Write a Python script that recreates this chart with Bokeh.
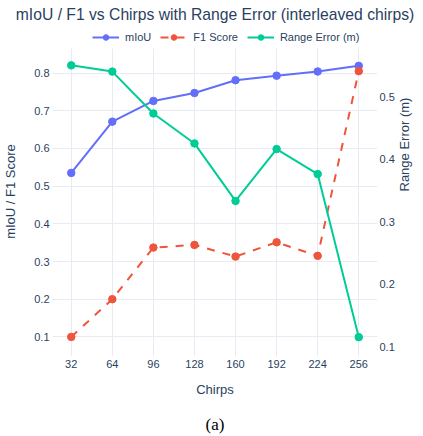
from bokeh.plotting import figure
from bokeh.models import (Range1d, LinearAxis, Legend, LegendItem, Title, FixedTicker,
                          BoxAnnotation)
from bokeh.embed import file_html
from bokeh.resources import INLINE
import math

chirps = [32, 64, 96, 128, 160, 192, 224, 256]
miou = [0.535, 0.671, 0.726, 0.747, 0.781, 0.793, 0.804, 0.819]
f1 = [0.100, 0.200, 0.337, 0.344, 0.313, 0.351, 0.315, 0.805]
range_err = [0.550, 0.540, 0.473, 0.425, 0.333, 0.416, 0.376, 0.115]

x_ticks = [32, 64, 96, 128, 160, 192, 224, 256]
left_ticks = [0.1, 0.2, 0.3, 0.4, 0.5, 0.6, 0.7, 0.8]
right_ticks = [0.1, 0.2, 0.3, 0.4, 0.5]

series_names = ["mIoU", "F1 Score", "Range Error (m)"]
chart_title = "mIoU / F1 vs Chirps with Range Error (interleaved chirps)"
caption = "(a)"

FONT = "Liberation Sans"
TXT = "#2a3f5f"
GRID = "#e8ecf2"
C_MIOU = "#636efa"
C_F1 = "#EF553B"
C_RE = "#00cc96"

# plotting area bounds (data units) and the headroom kept for the legend
Y_LO, Y_HI, Y_TOP = 0.048, 0.865, 0.9234
R_LO, R_HI, R_TOP = 0.084, 0.577, 0.6122

p = figure(width=423, height=436, output_backend="svg", toolbar_location=None,
           x_range=Range1d(17.4, 270.6), y_range=Range1d(Y_LO, Y_TOP),
           min_border_left=52, min_border_right=46, min_border_top=26, min_border_bottom=80,
           title=None)
p.extra_y_ranges = {"right": Range1d(R_LO, R_TOP)}
p.outline_line_color = None
p.background_fill_color = "white"
p.border_fill_color = "white"

MS = 7.5
r1l = p.line(chirps, miou, line_color=C_MIOU, line_width=2)
r1s = p.scatter(chirps, miou, size=MS, fill_color=C_MIOU, line_color=C_MIOU)
r2l = p.line(chirps, f1, line_color=C_F1, line_width=2, line_dash="8 8")
r2s = p.scatter(chirps, f1, size=MS, fill_color=C_F1, line_color=C_F1)
r3l = p.line(chirps, range_err, line_color=C_RE, line_width=2, y_range_name="right")
r3s = p.scatter(chirps, range_err, size=MS, fill_color=C_RE, line_color=C_RE, y_range_name="right")

def style_axis(ax):
    ax.axis_line_color = None
    ax.major_tick_line_color = None
    ax.minor_tick_line_color = None
    ax.major_tick_out = 0
    ax.major_tick_in = 0
    ax.major_label_text_font = FONT
    ax.major_label_text_font_size = "11px"
    ax.major_label_text_color = TXT
    ax.axis_label_text_font = FONT
    ax.axis_label_text_font_size = "13px"
    ax.axis_label_text_color = TXT
    ax.axis_label_text_font_style = "normal"

p.xaxis.ticker = FixedTicker(ticks=x_ticks)
p.xaxis.axis_label = "Chirps"
p.xaxis.major_label_standoff = 3
p.xaxis.axis_label_standoff = 11
style_axis(p.xaxis[0])

p.yaxis.ticker = FixedTicker(ticks=left_ticks)
p.yaxis.axis_label = "mIoU / F1 Score"
p.yaxis.major_label_standoff = 3
p.yaxis.axis_label_standoff = 13
p.yaxis.bounds = (Y_LO, Y_HI)
style_axis(p.yaxis[0])

ra = LinearAxis(y_range_name="right", ticker=FixedTicker(ticks=right_ticks),
                axis_label="Range Error (m)", bounds=(R_LO, R_HI))
style_axis(ra)
ra.major_label_standoff = 2
ra.axis_label_standoff = 7
if "axis_label_orientation" in ra.properties():
    ra.axis_label_orientation = math.pi / 2
ra.axis_label_text_baseline = "top"
p.add_layout(ra, "right")

# caption "(a)" as the label of an extra, tick-less bottom axis
cap_ax = LinearAxis(ticker=FixedTicker(ticks=[]), axis_label=caption)
style_axis(cap_ax)
cap_ax.axis_label_text_font = "Liberation Serif"
cap_ax.axis_label_text_font_size = "17px"
cap_ax.axis_label_text_color = "black"
cap_ax.axis_label_standoff = 15
p.add_layout(cap_ax, "below")

p.xgrid.grid_line_color = GRID
p.ygrid.grid_line_color = GRID
p.xgrid.ticker = FixedTicker(ticks=x_ticks)
p.ygrid.ticker = FixedTicker(ticks=left_ticks)

# white cover above the plotting area (hides grid lines in the legend strip)
p.add_layout(BoxAnnotation(bottom=Y_HI, fill_color="white", fill_alpha=1,
                           line_alpha=0, level="underlay"))

legend = Legend(items=[
    LegendItem(label=series_names[0], renderers=[r1l, r1s]),
    LegendItem(label=series_names[1], renderers=[r2l, r2s]),
    LegendItem(label=series_names[2], renderers=[r3l, r3s]),
], orientation="horizontal", location=(40, 312))
legend.label_text_font = FONT
legend.label_text_font_size = "11px"
legend.label_text_color = TXT
legend.glyph_width = 27
legend.glyph_height = 14
legend.label_standoff = 6
legend.spacing = 9
legend.padding = 0
legend.margin = 0
legend.border_line_color = None
legend.background_fill_alpha = 0
p.add_layout(legend, "center")

title = Title(text=chart_title, align="center", text_font=FONT, text_font_size="15.7px",
              text_color=TXT, text_font_style="normal")
if "standoff" in title.properties():
    title.standoff = 7
p.add_layout(title, "above")

open("out.html", "w").write(file_html(p, INLINE))
